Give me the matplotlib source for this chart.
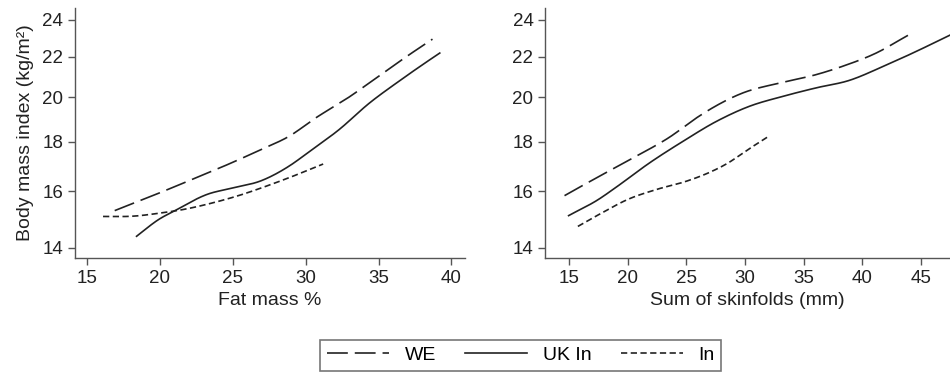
import numpy as np
import matplotlib.pyplot as plt
from matplotlib.ticker import FixedLocator, NullLocator, FixedFormatter

plt.rcParams['font.family'] = ['Liberation Sans', 'DejaVu Sans']
plt.rcParams['lines.scale_dashes'] = False

# left panel: fat mass %
fm_we_x = [16.9, 20, 21.7, 25, 27, 28.9, 30.7, 32.9, 35, 37.1, 38.7]
fm_we_y = [15.29, 15.95, 16.34, 17.14, 17.68, 18.24, 19.04, 19.96, 21.0, 22.1, 22.93]
fm_uk_x = [18.4, 20, 21.0, 23.3, 25, 27.0, 28.9, 30.3, 32.3, 34.4, 36.4, 39.2]
fm_uk_y = [14.39, 15.0, 15.28, 15.9, 16.13, 16.42, 17.0, 17.6, 18.52, 19.73, 20.76, 22.19]
fm_in_x = [16.1, 18.15, 20, 21.8, 23.6, 25.5, 27.3, 29.1, 31.2]
fm_in_y = [15.08, 15.09, 15.2, 15.35, 15.57, 15.86, 16.2, 16.58, 17.07]

# right panel: sum of skinfolds
sf_we_x = [14.6, 17.64, 20.77, 23.6, 25.9, 27.0, 29.85, 33.0, 36.1, 38.4, 41.2, 44.0]
sf_we_y = [15.84, 16.6, 17.4, 18.2, 19.05, 19.42, 20.2, 20.68, 21.09, 21.52, 22.19, 23.17]
sf_uk_x = [14.95, 17.5, 19.07, 21.9, 24.74, 27.6, 30.4, 33.3, 36.1, 38.9, 41.8, 44.6, 47.5]
sf_uk_y = [15.11, 15.70, 16.18, 17.13, 18.02, 18.89, 19.57, 20.04, 20.44, 20.8, 21.5, 22.27, 23.15]
sf_in_x = [15.74, 17.8, 20, 22.5, 25, 26.85, 28.55, 30.25, 32.1]
sf_in_y = [14.73, 15.21, 15.70, 16.08, 16.39, 16.71, 17.11, 17.66, 18.25]

yticks = [14, 16, 18, 20, 22, 24]
fm_ticks = [15, 20, 25, 30, 35, 40]
sf_ticks = [15, 20, 25, 30, 35, 40, 45]

labels = ['WE', 'UK In', 'In']
styles = [(0, (15, 5)), '-', (0, (4.5, 2.5))]
ink = '#222222'
axcol = '#555555'

fig = plt.figure(figsize=(9.5, 3.75), dpi=100)
ax1 = fig.add_axes([0.079, 0.312, 0.41, 0.667])
ax2 = fig.add_axes([0.574, 0.312, 0.426, 0.667])

# catmull-rom curve through the read points, so the lines come out smooth
def smooth(x, y, n=30):
    x = np.asarray(x, float)
    y = np.asarray(y, float)
    m = np.gradient(y, x)
    xs, ys = [], []
    for i in range(len(x) - 1):
        h = x[i + 1] - x[i]
        t = np.linspace(0, 1, n, endpoint=False)
        h00 = 2*t**3 - 3*t**2 + 1
        h10 = t**3 - 2*t**2 + t
        h01 = -2*t**3 + 3*t**2
        h11 = t**3 - t**2
        xs.append(x[i] + t*h)
        ys.append(h00*y[i] + h10*h*m[i] + h01*y[i+1] + h11*h*m[i+1])
    xs.append([x[-1]])
    ys.append([y[-1]])
    return np.concatenate(xs), np.concatenate(ys)

panels = [
    (ax1, [(fm_we_x, fm_we_y), (fm_uk_x, fm_uk_y), (fm_in_x, fm_in_y)], fm_ticks, (14.18, 40.9), 'Fat mass %'),
    (ax2, [(sf_we_x, sf_we_y), (sf_uk_x, sf_uk_y), (sf_in_x, sf_in_y)], sf_ticks, (12.96, 47.5), 'Sum of skinfolds (mm)'),
]

for ax, series, xt, xl, xlab in panels:
    for (x, y), ls, lab in zip(series, styles, labels):
        t, ys = smooth(x, y)
        ax.plot(t, ys, color=ink, lw=1.2, linestyle=ls, label=lab)
    ax.set_yscale('log')
    ax.set_ylim(13.67, 24.69)
    ax.set_xlim(*xl)
    ax.yaxis.set_major_locator(FixedLocator(yticks))
    ax.yaxis.set_major_formatter(FixedFormatter([str(v) for v in yticks]))
    ax.yaxis.set_minor_locator(NullLocator())
    ax.set_xticks(xt)
    ax.set_xlabel(xlab, fontsize=14, color=ink, labelpad=4)
    for s in ['top', 'right']:
        ax.spines[s].set_visible(False)
    for s in ['left', 'bottom']:
        ax.spines[s].set_color(axcol)
        ax.spines[s].set_linewidth(1.0)
    ax.tick_params(labelsize=13.5, colors=axcol, labelcolor=ink, length=5, width=1.0)

ax1.set_ylabel('Body mass index (kg/m²)', fontsize=14, color=ink, labelpad=6)

handles, labs = ax1.get_legend_handles_labels()
leg = fig.legend(handles, labs, loc='center', bbox_to_anchor=(0.548, 0.053), ncol=3,
                 fontsize=14, handlelength=3.2, columnspacing=1.5, handletextpad=0.8,
                 fancybox=False, edgecolor=axcol, borderpad=0.35)
leg.get_frame().set_linewidth(1.2)

fig.savefig('out.png', dpi=100)
